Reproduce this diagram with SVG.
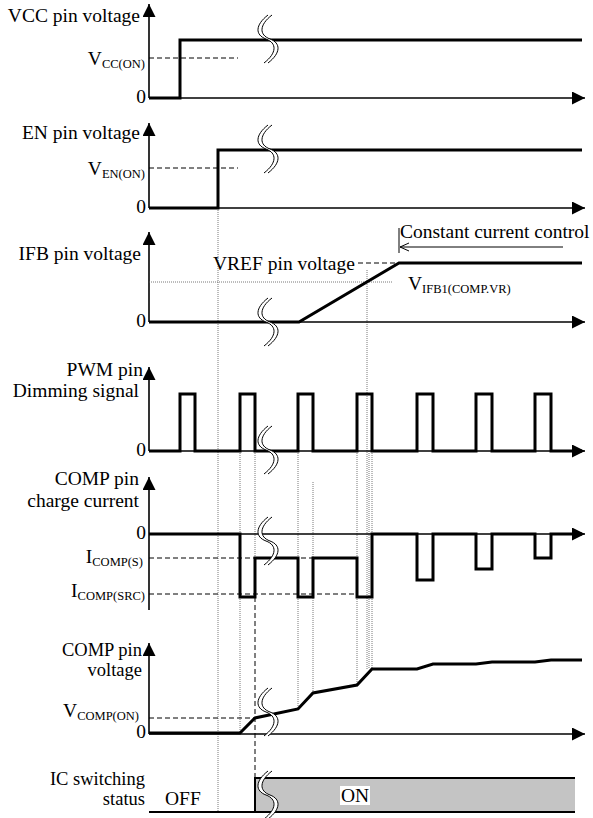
<svg xmlns="http://www.w3.org/2000/svg" width="593" height="818" viewBox="0 0 593 818">
<style>
text{font-family:"Liberation Serif","Times New Roman",serif;font-size:19.5px;fill:#000}
.sub{font-size:12.5px}
.sm{font-size:18.5px}
.ax{fill:none;stroke:#000;stroke-width:1.6}
.sig{fill:none;stroke:#000;stroke-width:3;stroke-linejoin:miter}
.dash{fill:none;stroke:#000;stroke-width:1;stroke-dasharray:5,3}
.dot{fill:none;stroke:#555;stroke-width:0.8;stroke-dasharray:1,1}
.thin{fill:none;stroke:#000;stroke-width:1}
</style>
<defs>
<marker id="ah" markerUnits="userSpaceOnUse" markerWidth="13" markerHeight="13" viewBox="0 0 13 13" refX="13" refY="6.5" orient="auto">
<path d="M0,0 L13,6.5 L0,13 Z" fill="#000"/>
</marker>
<g id="brk">
<path d="M2,-24 C-11,-14 -11,-4 0,0 C11,4 11,14 -2,24 L2,24 C15,14 15,4 4,0 C-7,-4 -7,-14 6,-24 Z" fill="#fff" stroke="none"/>
<path d="M2,-24 C-11,-14 -11,-4 0,0 C11,4 11,14 -2,24" class="thin"/>
<path d="M6,-24 C-7,-14 -7,-4 4,0 C15,4 15,14 2,24" class="thin"/>
</g>
</defs>

<g id="guides">
<line x1="218" y1="208" x2="218" y2="812" class="dot"/>
<line x1="240" y1="451" x2="240" y2="733" class="dot"/>
<line x1="255" y1="451" x2="255" y2="597" class="dot"/>
<line x1="255" y1="597" x2="255" y2="778" class="dash" stroke-width="0.9"/>
<line x1="298" y1="451" x2="298" y2="709" class="dot"/>
<line x1="313" y1="482" x2="313" y2="693" class="dot"/>
<line x1="357" y1="451" x2="357" y2="685" class="dot"/>
<line x1="367" y1="270" x2="367" y2="669" class="dot"/>
<line x1="369" y1="451" x2="369" y2="669" class="dot"/>
<line x1="372" y1="451" x2="372" y2="669" class="dot"/>
</g>

<g id="vcc">
<path d="M149,98 V4" class="ax" marker-end="url(#ah)"/>
<path d="M149,98 H585" class="ax" marker-end="url(#ah)"/>
<line x1="149" y1="58" x2="238" y2="58" class="dash"/>
<path d="M149,98 H180 V40 H582" class="sig"/>
<use href="#brk" x="266" y="39"/>
<text x="140" y="22" text-anchor="end">VCC pin voltage</text>
<text x="145" y="65" text-anchor="end">V<tspan class="sub" dy="3">CC(ON)</tspan></text>
<text x="146" y="103" text-anchor="end">0</text>
</g>

<g id="en">
<path d="M149,208 V123" class="ax" marker-end="url(#ah)"/>
<path d="M149,208 H585" class="ax" marker-end="url(#ah)"/>
<line x1="149" y1="168" x2="238" y2="168" class="dash"/>
<path d="M149,208 H218 V150 H582" class="sig"/>
<use href="#brk" x="266" y="149"/>
<text x="140" y="139" text-anchor="end">EN pin voltage</text>
<text x="145" y="175" text-anchor="end">V<tspan class="sub" dy="3">EN(ON)</tspan></text>
<text x="146" y="213" text-anchor="end">0</text>
</g>

<g id="ifb">
<path d="M149,322 V232" class="ax" marker-end="url(#ah)"/>
<path d="M149,322 H585" class="ax" marker-end="url(#ah)"/>
<line x1="149" y1="282" x2="393" y2="282" class="dot" stroke="#333"/>
<line x1="358" y1="263" x2="399" y2="263" class="dash" stroke-dasharray="4,2"/>
<path d="M149,322 H299 L399,263 H582" class="sig"/>
<line x1="399" y1="228" x2="399" y2="253" class="thin"/>
<path d="M563,247 H400 M409,243 L400,247 L409,251" class="thin"/>
<use href="#brk" x="266" y="322"/>
<text x="141" y="260" text-anchor="end">IFB pin voltage</text>
<text x="213" y="270">VREF pin voltage</text>
<text x="400" y="238">Constant current control</text>
<text x="408" y="290">V<tspan class="sub" dy="3">IFB1(COMP.VR)</tspan></text>
<text x="146" y="327" text-anchor="end">0</text>
</g>

<g id="pwm">
<path d="M149,451 V367" class="ax" marker-end="url(#ah)"/>
<path d="M149,451 H585" class="ax" marker-end="url(#ah)"/>
<path d="M149,451 H180 V394 H195 V451 H240 V394 H255 V451 H298 V394 H313 V451 H357 V394 H372 V451 H417 V394 H433 V451 H476 V394 H492 V451 H535 V394 H551 V451 H582" class="sig"/>
<use href="#brk" x="266" y="450"/>
<text x="143" y="376" text-anchor="end">PWM pin</text>
<text x="139" y="397" text-anchor="end">Dimming signal</text>
<text x="146" y="456" text-anchor="end">0</text>
</g>

<g id="compi">
<path d="M149,610 V477" class="ax" marker-end="url(#ah)"/>
<path d="M149,534 H585" class="ax" marker-end="url(#ah)"/>
<line x1="149" y1="558" x2="313" y2="558" class="dash"/>
<line x1="149" y1="594" x2="357" y2="594" class="dash"/>
<path d="M149,534 H240 V597 H255 V558 H298 V597 H313 V558 H357 V597 H372 V534 H417 V580 H433 V534 H476 V569 H492 V534 H535 V558 H551 V534 H582" class="sig"/>
<use href="#brk" x="266" y="541"/>
<text x="139" y="485" text-anchor="end">COMP pin</text>
<text x="139" y="507" text-anchor="end">charge current</text>
<text x="146" y="539" text-anchor="end">0</text>
<text x="143" y="563" text-anchor="end">I<tspan class="sub" dy="3">COMP(S)</tspan></text>
<text x="145" y="597" text-anchor="end">I<tspan class="sub" dy="3">COMP(SRC)</tspan></text>
</g>

<g id="compv">
<path d="M149,734 V643" class="ax" marker-end="url(#ah)"/>
<path d="M149,734 H585" class="ax" marker-end="url(#ah)"/>
<line x1="149" y1="718" x2="255" y2="718" class="dash"/>
<path d="M149,733 H240 L255,718 L298,709 L313,693 L357,685 L372,669 H417 L433,664 H476 L492,662 H535 L551,660 H582" class="sig"/>
<use href="#brk" x="266" y="712"/>
<text x="142" y="656" text-anchor="end" class="sm">COMP pin</text>
<text x="142" y="676" text-anchor="end" class="sm">voltage</text>
<text x="139" y="717" text-anchor="end">V<tspan class="sub" dy="3">COMP(ON)</tspan></text>
<text x="146" y="738" text-anchor="end">0</text>
</g>

<g id="ic">
<rect x="255" y="778" width="320" height="34" fill="#c4c4c4"/>
<path d="M575,778 H255 V812" fill="none" stroke="#000" stroke-width="2"/>
<line x1="149" y1="812" x2="575" y2="812" stroke="#000" stroke-width="2"/>
<use href="#brk" x="266" y="795"/>
<rect x="340" y="786" width="30" height="19" fill="#fff"/>
<text x="341" y="802">ON</text>
<text x="145" y="785" text-anchor="end" class="sm">IC switching</text>
<text x="145" y="805" text-anchor="end" class="sm">status</text>
<text x="165" y="805">OFF</text>
</g>
</svg>
